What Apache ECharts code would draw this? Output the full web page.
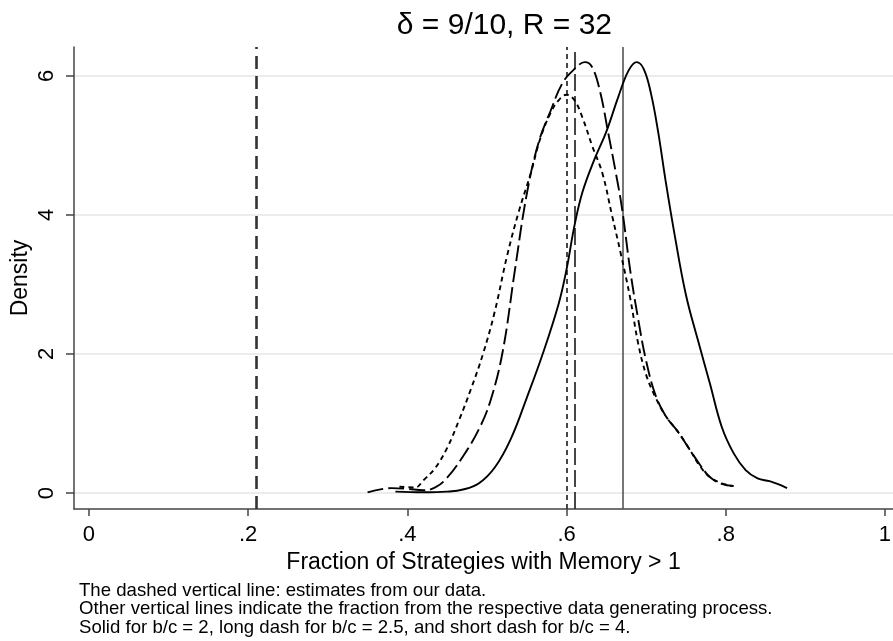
<!DOCTYPE html>
<html>
<head>
<meta charset="utf-8">
<script src="https://cdn.jsdelivr.net/npm/echarts@6/dist/echarts.min.js"></script>
<style>
  html, body { margin: 0; padding: 0; background: #fff; }
  #chart { width: 893px; height: 641px; }
</style>
</head>
<body>
<div id="chart"></div>
<script>
// Kernel density estimates of the fraction of strategies with memory > 1,
// one curve per data generating process (b/c = 2, 2.5, 4).
const densitySolid = [
  [0.385, 0.02], [0.42, 0.01], [0.45, 0.02], [0.47, 0.05], [0.49, 0.14],
  [0.51, 0.37], [0.53, 0.78], [0.55, 1.37], [0.57, 2.0], [0.59, 2.72],
  [0.60, 3.22], [0.61, 3.85], [0.62, 4.33], [0.635, 4.8], [0.65, 5.2],
  [0.665, 5.7], [0.678, 6.08], [0.688, 6.2], [0.697, 6.1], [0.706, 5.75],
  [0.715, 5.2], [0.725, 4.45], [0.736, 3.7], [0.75, 2.85], [0.765, 2.2],
  [0.78, 1.58], [0.795, 0.95], [0.81, 0.57], [0.825, 0.33], [0.84, 0.21],
  [0.855, 0.17], [0.865, 0.13], [0.877, 0.07]
];
const densityLongDash = [
  [0.35, 0.01], [0.38, 0.07], [0.40, 0.06], [0.42, 0.04], [0.435, 0.08],
  [0.45, 0.22], [0.47, 0.53], [0.49, 0.92], [0.505, 1.35], [0.52, 2.05],
  [0.535, 3.2], [0.55, 4.3], [0.565, 5.05], [0.58, 5.5], [0.595, 5.9],
  [0.61, 6.1], [0.623, 6.2], [0.632, 6.13], [0.642, 5.78], [0.652, 5.2],
  [0.662, 4.6], [0.67, 4.07], [0.68, 3.2], [0.69, 2.5], [0.70, 1.9],
  [0.712, 1.4], [0.725, 1.1], [0.74, 0.88], [0.755, 0.62], [0.768, 0.4],
  [0.78, 0.23], [0.795, 0.13], [0.81, 0.1]
];
const densityShortDash = [
  [0.39, 0.09], [0.41, 0.08], [0.42, 0.18], [0.435, 0.36], [0.45, 0.65],
  [0.465, 1.05], [0.48, 1.5], [0.495, 2.0], [0.51, 2.62], [0.525, 3.4],
  [0.54, 4.05], [0.555, 4.6], [0.567, 5.1], [0.58, 5.47], [0.59, 5.65],
  [0.60, 5.73], [0.61, 5.65], [0.62, 5.4], [0.632, 5.0], [0.645, 4.6],
  [0.657, 4.0], [0.668, 3.45], [0.68, 2.8], [0.69, 2.15], [0.70, 1.7],
  [0.712, 1.37], [0.725, 1.1], [0.74, 0.88], [0.755, 0.62], [0.768, 0.38],
  [0.78, 0.23], [0.795, 0.14], [0.808, 0.1]
];

// Vertical reference lines
const estimateFromData = 0.212;
const processSolid = 0.67;
const processLongDash = 0.61;
const processShortDash = 0.60;

// Axis ticks and labels
const xTicks = [0, 0.2, 0.4, 0.6, 0.8, 1];
const xTickLabels = ['0', '.2', '.4', '.6', '.8', '1'];
const yTicks = [0, 2, 4, 6];

const titleText = 'δ = 9/10, R = 32';
const xAxisTitle = 'Fraction of Strategies with Memory > 1';
const yAxisTitle = 'Density';
const noteLines = [
  'The dashed vertical line: estimates from our data.',
  'Other vertical lines indicate the fraction from the respective data generating process.',
  'Solid for b/c = 2, long dash for b/c = 2.5, and short dash for b/c = 4.'
];

const FONT = '"Liberation Sans", Arial, Helvetica, sans-serif';
const chart = echarts.init(document.getElementById('chart'), null, { renderer: 'canvas' });

function curve(name, data, dash) {
  return {
    name: name,
    type: 'line',
    data: data,
    showSymbol: false,
    smooth: 0.4,
    silent: true,
    z: 5,
    lineStyle: { color: '#000', width: 1.9, type: dash }
  };
}

const solidSeries = curve('b/c = 2', densitySolid, 'solid');
solidSeries.markLine = {
  silent: true,
  symbol: 'none',
  label: { show: false },
  animation: false,
  data: [
    { xAxis: estimateFromData, lineStyle: { color: '#333', width: 2.6, type: [13, 7] } },
    { xAxis: processSolid, lineStyle: { color: '#555', width: 1.6, type: 'solid' } },
    { xAxis: processLongDash, lineStyle: { color: '#333', width: 1.8, type: [17, 5] } },
    { xAxis: processShortDash, lineStyle: { color: '#333', width: 1.8, type: [5, 4] } }
  ]
};

const option = {
  animation: false,
  backgroundColor: '#fff',
  title: {
    text: titleText,
    left: 607,
    top: 6,
    textAlign: 'right',
    textStyle: { fontFamily: FONT, fontSize: 30, fontWeight: 'normal', color: '#000' }
  },
  grid: {
    left: 74, right: 0, top: 47, bottom: 132,
    containLabel: false,
    outerBoundsMode: 'none'
  },
  xAxis: {
    type: 'value',
    min: -0.0188,
    max: 1.0101,
    name: xAxisTitle,
    nameLocation: 'middle',
    nameGap: 40,
    nameTextStyle: { fontFamily: FONT, fontSize: 23, color: '#000' },
    axisLine: { show: true, onZero: false, lineStyle: { color: '#444', width: 1.5 } },
    axisTick: { show: true, customValues: xTicks, length: 7, lineStyle: { color: '#444', width: 1.5 } },
    axisLabel: {
      customValues: xTicks,
      formatter: function (v) {
        const i = xTicks.findIndex(function (t) { return Math.abs(t - v) < 1e-9; });
        return i >= 0 ? xTickLabels[i] : '';
      },
      margin: 15,
      fontFamily: FONT, fontSize: 22, color: '#000'
    },
    splitLine: { show: false }
  },
  yAxis: {
    type: 'value',
    min: -0.23,
    max: 6.417,
    name: yAxisTitle,
    nameLocation: 'middle',
    nameGap: 42,
    nameMoveOverlap: false,
    nameRotate: 90,
    nameTextStyle: { fontFamily: FONT, fontSize: 23, color: '#000' },
    axisLine: { show: true, onZero: false, lineStyle: { color: '#444', width: 1.5 } },
    axisTick: { show: true, customValues: yTicks, length: 8, lineStyle: { color: '#444', width: 1.5 } },
    axisLabel: {
      customValues: yTicks,
      rotate: 90,
      margin: 16,
      fontFamily: FONT, fontSize: 22, color: '#000'
    },
    splitLine: { show: true, lineStyle: { color: '#e6e6e6', width: 1.5 } }
  },
  series: [
    solidSeries,
    curve('b/c = 2.5', densityLongDash, [16, 5]),
    curve('b/c = 4', densityShortDash, [5, 4])
  ],
  graphic: noteLines.map(function (line, i) {
    return {
      type: 'text',
      left: 79,
      top: 581 + i * 18.5,
      silent: true,
      style: { text: line, fontFamily: FONT, fontSize: 18.6, fill: '#000' }
    };
  })
};

chart.setOption(option);
</script>
</body>
</html>
